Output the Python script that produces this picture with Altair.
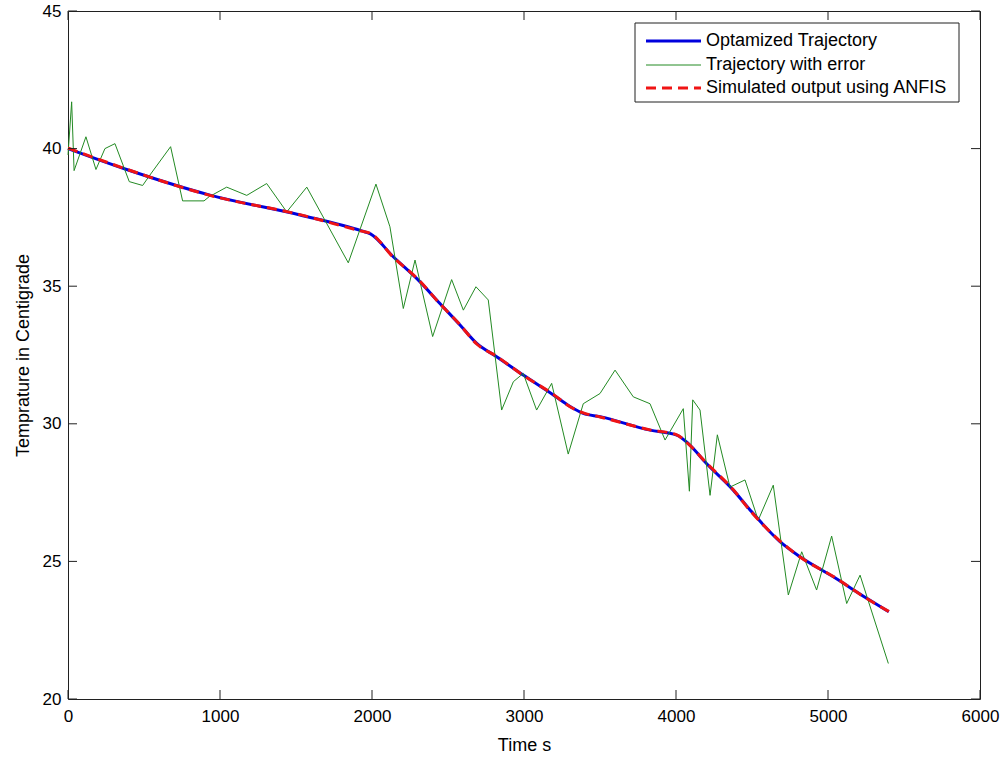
import altair as alt
import pandas as pd

# Optimized temperature trajectory: time (s) and temperature (deg C)
opt_time = [0, 386, 934, 1526, 1932, 1990, 2140, 2305, 2447, 2579, 2689, 2820,
            2995, 3193, 3303, 3390, 3500, 3829, 4005, 4081, 4202, 4377, 4487,
            4684, 4816, 5035, 5255, 5400]
opt_temp = [40.0, 39.24, 38.31, 37.59, 37.01, 36.9, 36.07, 35.22, 34.37, 33.59,
            32.92, 32.44, 31.77, 31.05, 30.63, 30.38, 30.26, 29.77, 29.59, 29.28,
            28.55, 27.59, 26.87, 25.72, 25.17, 24.44, 23.66, 23.17]

# Output simulated with the ANFIS model at the same instants
anfis_time = [0, 386, 934, 1526, 1932, 1990, 2140, 2305, 2447, 2579, 2689, 2820,
              2995, 3193, 3303, 3390, 3500, 3829, 4005, 4081, 4202, 4377, 4487,
              4684, 4816, 5035, 5255, 5400]
anfis_temp = [40.02, 39.25, 38.3, 37.6, 37.0, 36.92, 36.05, 35.24, 34.36, 33.6,
              32.9, 32.45, 31.76, 31.07, 30.62, 30.4, 30.25, 29.78, 29.6, 29.27,
              28.57, 27.6, 26.85, 25.74, 25.16, 24.45, 23.65, 23.18]

# Trajectory with measurement error
err_time = [0, 24, 40, 118, 184, 243, 309, 403, 491, 539, 675, 754, 895, 928,
            1044, 1176, 1307, 1439, 1571, 1844, 2026, 2118, 2206, 2283, 2399,
            2524, 2601, 2684, 2765, 2853, 2930, 2995, 3083, 3182, 3291, 3390,
            3500, 3599, 3719, 3829, 3928, 4048, 4088, 4110, 4158, 4224, 4272,
            4355, 4454, 4541, 4640, 4739, 4827, 4925, 5024, 5123, 5211, 5397]
err_temp = [39.77, 41.7, 39.2, 40.43, 39.24, 40.0, 40.18, 38.8, 38.66, 39.04,
            40.07, 38.1, 38.1, 38.25, 38.6, 38.3, 38.73, 37.7, 38.6, 35.85,
            38.71, 37.16, 34.19, 35.95, 33.17, 35.24, 34.13, 34.98, 34.5, 30.5,
            31.53, 31.83, 30.5, 31.47, 28.9, 30.73, 31.1, 31.95, 30.98, 30.73,
            29.41, 30.55, 27.55, 30.87, 30.5, 27.4, 29.6, 27.7, 27.96, 26.5,
            27.77, 23.78, 25.35, 23.96, 25.92, 23.47, 24.5, 21.29]

x_ticks = [0, 1000, 2000, 3000, 4000, 5000, 6000]
y_ticks = [20, 25, 30, 35, 40, 45]

series_names = ["Optamized Trajectory", "Trajectory with error",
                "Simulated output using ANFIS"]
series_colors = ["#0000dd", "#238a23", "#f01414"]

W, H = 912, 688
FONT = "Liberation Sans, Arial, sans-serif"
INK = "#202020"
TICK_LEN = 9

x_scale = alt.Scale(domain=[0, 6000], nice=False, zero=False)
y_scale = alt.Scale(domain=[20, 45], nice=False, zero=False)

x_enc = alt.X(
    "t:Q", scale=x_scale,
    axis=alt.Axis(values=x_ticks, format="d", title="Time s",
                  labelFlush=False, labelOverlap=False, labelBound=False,
                  labelPadding=9, titleY=46, titleBaseline="middle"),
)
y_enc = alt.Y(
    "v:Q", scale=y_scale,
    axis=alt.Axis(values=y_ticks, format="d", title="Temprature in Centigrade",
                  labelFlush=False, labelOverlap=False, labelBound=False,
                  labelPadding=7, titleX=-45, titleY=H / 2, titleAngle=270,
                  titleAlign="center", titleBaseline="middle"),
)

opt_df = pd.DataFrame({"t": opt_time, "v": opt_temp})
anfis_df = pd.DataFrame({"t": anfis_time, "v": anfis_temp})
err_df = pd.DataFrame({"t": err_time, "v": err_temp})

opt_line = alt.Chart(opt_df).mark_line(
    color=series_colors[0], strokeWidth=3, interpolate="monotone"
).encode(x=x_enc, y=y_enc)

err_line = alt.Chart(err_df).mark_line(
    color=series_colors[1], strokeWidth=1
).encode(x=x_enc, y=y_enc)

anfis_line = alt.Chart(anfis_df).mark_line(
    color=series_colors[2], strokeWidth=3, strokeDash=[10, 6],
    interpolate="monotone"
).encode(x=x_enc, y=y_enc)

# Inward-pointing ticks on all four sides of the frame
xt_df = pd.DataFrame({"t": x_ticks})
yt_df = pd.DataFrame({"v": y_ticks})
tick_mark = dict(color=INK, strokeWidth=1)
x_ticks_bottom = alt.Chart(xt_df).mark_rule(**tick_mark).encode(
    x=x_enc, y=alt.value(H), y2=alt.value(H - TICK_LEN))
x_ticks_top = alt.Chart(xt_df).mark_rule(**tick_mark).encode(
    x=x_enc, y=alt.value(0), y2=alt.value(TICK_LEN))
y_ticks_left = alt.Chart(yt_df).mark_rule(**tick_mark).encode(
    y=y_enc, x=alt.value(0), x2=alt.value(TICK_LEN))
y_ticks_right = alt.Chart(yt_df).mark_rule(**tick_mark).encode(
    y=y_enc, x=alt.value(W), x2=alt.value(W - TICK_LEN))

# Legend box in the upper right corner
one = pd.DataFrame({"k": [0]})
LX0, LX1, LY0, LY1 = 567, 891, 12, 91
row_y = [30, 54, 77]
legend_box = alt.Chart(one).mark_rect(
    fill="white", stroke=INK, strokeWidth=1
).encode(x=alt.value(LX0), x2=alt.value(LX1), y=alt.value(LY0), y2=alt.value(LY1))

legend_layers = [legend_box]
widths = [3, 1, 3]
dashes = [None, None, [10, 6]]
for name, col, sw, dash, ry in zip(series_names, series_colors, widths, dashes, row_y):
    kw = dict(color=col, strokeWidth=sw)
    if dash:
        kw["strokeDash"] = dash
    legend_layers.append(
        alt.Chart(one).mark_rule(**kw).encode(
            x=alt.value(578), x2=alt.value(633), y=alt.value(ry))
    )
    legend_layers.append(
        alt.Chart(pd.DataFrame({"label": [name]})).mark_text(
            align="left", baseline="middle", font=FONT, fontSize=18, color="black"
        ).encode(text="label:N", x=alt.value(638), y=alt.value(ry))
    )

chart = alt.layer(
    opt_line, err_line, anfis_line,
    x_ticks_bottom, x_ticks_top, y_ticks_left, y_ticks_right,
    *legend_layers,
).properties(
    width=W, height=H,
    autosize=alt.AutoSizeParams(type="none"),
    padding={"left": 68, "top": 11, "right": 23, "bottom": 58},
    background="white",
).configure_view(
    stroke=INK, strokeWidth=1
).configure_axis(
    grid=False, domain=False, ticks=False,
    labelFont=FONT, labelFontSize=17, labelColor="black",
    titleFont=FONT, titleFontSize=18, titleFontWeight="normal", titleColor="black",
)

chart.save("out.html", embed_options={"renderer": "svg", "actions": False})
